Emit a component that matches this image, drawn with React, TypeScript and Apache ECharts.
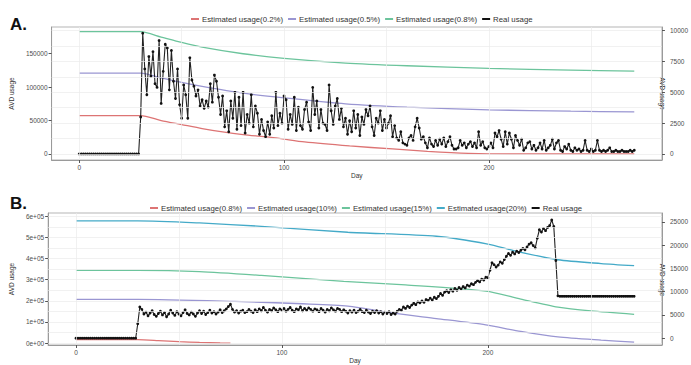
import React, { useEffect, useRef } from 'react';
import * as echarts from 'echarts';

const FONT = '"Liberation Sans", Arial, sans-serif';

// ---------- Panel A ----------
const legendA = ['Estimated usage(0.2%)', 'Estimated usage(0.5%)', 'Estimated usage(0.8%)', 'Real usage'];

const estA02Days = [0, 30, 40, 50, 60, 70, 80, 96, 110, 132, 153, 170, 190, 210, 271];
const estA02 = [57500, 57500, 50000, 44000, 38000, 33000, 29000, 24000, 18000, 12000, 7500, 4000, 1000, 0, 0];

const estA05Days = [0, 30, 40, 50, 60, 80, 100, 130, 160, 200, 240, 271];
const estA05 = [121000, 121000, 114000, 107000, 101000, 91000, 84000, 75000, 70000, 66000, 64000, 63000];

const estA08Days = [0, 30, 40, 50, 60, 80, 100, 130, 160, 200, 240, 271];
const estA08 = [183000, 183000, 175000, 167000, 160000, 150000, 143000, 136000, 132000, 128000, 125500, 124000];

// Real usage, one value per day starting at day 0
const realA = [
  0, 0, 0, 0, 0, 0, 0, 0, 0, 0,
  0, 0, 0, 0, 0, 0, 0, 0, 0, 0,
  0, 0, 0, 0, 0, 0, 0, 0, 0, 0,
  3000,
  9800, 6900, 4800, 7900, 6300, 8300, 5700, 5400, 9200, 4100,
  6700, 8900, 8600, 5200, 8400, 5900, 4500, 6900, 4000, 2900,
  5600, 4800, 2900, 7800, 6000, 5500, 4700, 5200, 3900, 4400,
  3700, 4300, 3800, 5700, 4200, 6400, 5900, 4600, 3200, 4700,
  2200, 3500, 1800, 4300, 2900, 5000, 2000, 4600, 2300, 5000,
  1700, 3200, 2500, 4800, 2200, 3900, 3300, 1600, 2800, 1900,
  1400, 2600, 1600, 3100, 2100, 5000, 2300, 3300, 2500, 4700,
  4400, 2000, 3200, 2400, 4600, 1900, 3800, 2300, 2000, 3600,
  4200, 2600, 1900, 5400, 3200, 4300, 2100, 3600, 2500, 2400,
  1900, 5600, 3500, 2400, 3900, 4500, 2800, 3700, 2200, 2900,
  1600, 2700, 1800, 3500, 2100, 3200, 1500, 3000, 2400, 3600,
  3100, 3900, 2200, 1500, 2900, 2500, 3500, 1900, 2800, 2100,
  2500, 3100, 1400, 2300, 1300, 1100, 1800, 900, 800, 700,
  1300, 1500, 1100, 2200, 2900, 2100, 1200, 1400, 900, 500,
  1300, 800, 600, 1100, 700, 1200, 800, 1300, 600, 1000,
  1400, 700, 400, 400, 500, 1100, 700, 900, 500, 800,
  1000, 600, 900, 500, 1800, 700, 1000, 500, 400, 600,
  900, 500, 1700, 1400, 1900, 1200, 600, 1800, 800, 1700,
  1200, 500, 1500, 1100, 700, 1200, 300, 500, 900, 1000,
  400, 700, 300, 500, 900, 400, 1100, 300, 500, 700,
  1200, 400, 900, 1100, 300, 200, 600, 400, 800, 300,
  200, 500, 300, 400, 200, 300, 1100, 300, 200, 400,
  200, 300, 1100, 300, 200, 300, 200, 300, 500, 200,
  200, 300, 200, 200, 300, 200, 200, 200, 300, 200, 300,
];

// ---------- Panel B ----------
const legendB = ['Estimated usage(0.8%)', 'Estimated usage(10%)', 'Estimated usage(15%)', 'Estimated usage(20%)', 'Real usage'];

const estB08Days = [0, 30, 40, 50, 60, 70, 75];
const estB08 = [16000, 16000, 12000, 7000, 3000, 500, 0];

const estB10Days = [0, 30, 77, 110, 132, 155, 175, 199, 216, 234, 255, 271];
const estB10 = [207000, 207000, 197000, 186000, 175000, 140000, 116000, 86000, 55000, 29000, 14000, 5000];

const estB15Days = [0, 30, 60, 90, 130, 160, 199, 216, 234, 250, 271];
const estB15 = [344000, 344000, 338000, 320000, 292000, 275000, 246000, 208000, 170000, 152000, 136000];

const estB20Days = [0, 30, 60, 90, 132, 175, 200, 213, 234, 255, 271];
const estB20 = [578000, 578000, 568000, 552000, 524000, 505000, 468000, 436000, 394000, 376000, 366000];

const realB = [
  0, 0, 0, 0, 0, 0, 0, 0, 0, 0,
  0, 0, 0, 0, 0, 0, 0, 0, 0, 0,
  0, 0, 0, 0, 0, 0, 0, 0, 0, 0,
  3100,
  6700, 6200, 5200, 5600, 4800, 5400, 5900, 5100, 4700, 5300,
  5800, 5000, 5500, 4600, 5200, 6000, 5400, 4900, 5700, 5200,
  4800, 5500, 6100, 5300, 5000, 5600, 5200, 4700, 5400, 5900,
  5300, 5800, 5100, 5500, 6000, 5400, 5700, 5200, 5600, 6100,
  5500, 5900, 6300, 6800, 7300, 6200, 5600, 5900, 5400, 5800,
  6000, 5500, 5700, 6200, 5800, 5500, 6100, 5700, 6300, 5900,
  6600, 6000, 5600, 6200, 5900, 6500, 6100, 5700, 6300, 6000,
  6400, 5800, 6200, 6600, 6000, 5700, 6300, 6100, 6700, 5900,
  6400, 6000, 6500, 6200, 5800, 6300, 6100, 5700, 6400, 6000,
  5600, 6200, 5900, 6500, 6100, 5800, 6400, 6200, 5700, 6100,
  5800, 5400, 5900, 5600, 6000, 5500, 5800, 6200, 5700, 5500,
  6000, 5600, 5300, 5800, 5500, 5900, 5400, 5700, 5200, 5600,
  5300, 5700, 5100, 5400, 5200, 5800, 6200, 6000, 6700, 6400,
  6900, 6600, 7100, 7500, 7200, 7800, 7600, 8000, 7700, 8300,
  8100, 8600, 8200, 8800, 8500, 9000, 9600, 9200, 9900, 10200,
  9800, 10400, 10100, 10700, 10300, 10900, 10600, 11100, 10800, 11400,
  11200, 11700, 11500, 12000, 12400, 12100, 12700, 12500, 13100, 13000,
  14600, 16200, 15800, 15300, 15700, 16400, 16100, 16900, 17600, 18200,
  17800, 18500, 18100, 18700, 18400, 18900, 19300, 19000, 19600, 20200,
  20500, 19900, 19400, 21500, 23300, 22800, 23600, 23100, 23800, 24200,
  25400, 24000, 16700, 9100,
  9000, 9000, 9000, 9000, 9000, 9000, 9000, 9000, 9000, 9000,
  9000, 9000, 9000, 9000, 9000, 9000, 9000, 9000, 9000, 9000,
  9000, 9000, 9000, 9000, 9000, 9000, 9000, 9000, 9000, 9000,
  9000, 9000, 9000, 9000, 9000, 9000, 9000,
];

// axis ticks
const dayTicks = [0, 100, 200];
const dayGrid = [0, 50, 100, 150, 200, 250];
const leftTicksA = [0, 50000, 100000, 150000];
const rightTicksA = [0, 2500, 5000, 7500, 10000];
const gridYA = [0, 1250, 2500, 3750, 5000, 6250, 7500, 8750, 10000];
const leftTicksB = [0, 100000, 200000, 300000, 400000, 500000, 600000];
const rightTicksB = [0, 5000, 10000, 15000, 20000, 25000];
const gridYB = [0, 50000, 100000, 150000, 200000, 250000, 300000, 350000, 400000, 450000, 500000, 550000, 600000];

const COLORS = {
  red: '#dd7474',
  purple: '#9a96d2',
  green: '#6cc49c',
  cyan: '#44aac8',
  black: '#111111',
};

const pairs = (xs: number[], ys: number[]) => xs.map((x, i) => [x, ys[i]]);
const daily = (ys: number[]) => ys.map((y, i) => [i, y]);
const plain = (v: number) => String(Math.round(v));

const labelStyle = { fontSize: 6.5, color: '#4d4d4d', fontFamily: FONT };

function xAxisCfg(gridIndex: number) {
  return {
    type: 'value',
    gridIndex,
    min: -13.5,
    max: 284.5,
    axisLine: { show: true, onZero: false, lineStyle: { color: '#9a9a9a', width: 1 } },
    axisTick: { show: true, length: 3, customValues: dayTicks, lineStyle: { color: '#555' } },
    axisLabel: { ...labelStyle, margin: 4, customValues: dayTicks, formatter: plain },
    splitLine: { show: false },
    name: 'Day',
    nameLocation: 'middle',
    nameGap: 12,
    nameTextStyle: { fontSize: 6.5, color: '#333', fontFamily: FONT },
  };
}

function yAxisCfg(gridIndex: number, position: string, min: number, max: number, ticks: number[], extra: any = {}) {
  return {
    type: 'value',
    gridIndex,
    position,
    min,
    max,
    axisLine: { show: true, onZero: false, lineStyle: { color: '#9a9a9a', width: 1 } },
    axisTick: { show: true, length: 3, customValues: ticks, lineStyle: { color: '#555' } },
    axisLabel: { ...labelStyle, margin: 4, customValues: ticks, formatter: plain, ...(extra.axisLabel || {}) },
    splitLine: { show: false },
    ...(extra.rest || {}),
  };
}

function gridLines(xIdx: number, yIdx: number, ys: number[]) {
  return {
    type: 'line',
    name: 'grid' + xIdx,
    xAxisIndex: xIdx,
    yAxisIndex: yIdx,
    data: [],
    silent: true,
    z: 0,
    markLine: {
      silent: true,
      symbol: ['none', 'none'],
      label: { show: false },
      lineStyle: { color: '#ebebeb', width: 0.7, type: 'solid' },
      emphasis: { disabled: true },
      data: [...dayGrid.map((v) => ({ xAxis: v })), ...ys.map((v) => ({ yAxis: v }))],
    },
  };
}

function estSeries(name: string, xIdx: number, yIdx: number, days: number[], vals: number[], color: string) {
  return {
    type: 'line',
    name,
    xAxisIndex: xIdx,
    yAxisIndex: yIdx,
    data: pairs(days, vals),
    showSymbol: false,
    symbol: 'none',
    smooth: 0.25,
    lineStyle: { color, width: 1.3 },
    itemStyle: { color },
    z: 2,
  };
}

function realSeries(name: string, xIdx: number, yIdx: number, vals: number[]) {
  return {
    type: 'line',
    name,
    xAxisIndex: xIdx,
    yAxisIndex: yIdx,
    data: daily(vals),
    symbol: 'circle',
    symbolSize: 2.8,
    showSymbol: true,
    lineStyle: { color: '#222', width: 1.1 },
    itemStyle: { color: COLORS.black },
    z: 3,
  };
}

const stripPrefix = (n: string) => n.replace(/^[AB]\|/, '');

function buildOption() {
  return {
    animation: false,
    backgroundColor: '#ffffff',
    textStyle: { fontFamily: FONT },
    title: [
      { text: 'A.', left: 5, top: 11, textStyle: { fontSize: 17, fontWeight: 'bold', color: '#111', fontFamily: FONT } },
      { text: 'B.', left: 5, top: 190, textStyle: { fontSize: 17, fontWeight: 'bold', color: '#111', fontFamily: FONT } },
    ],
    legend: [
      {
        left: 186,
        top: 10,
        icon: 'rect',
        itemWidth: 8,
        itemHeight: 2,
        itemGap: 5,
        formatter: stripPrefix,
        textStyle: { fontSize: 7.8, color: '#333', fontFamily: FONT, padding: [0, 0, 0, -2] },
        data: [
          { name: 'A|' + legendA[0], itemStyle: { color: COLORS.red } },
          { name: 'A|' + legendA[1], itemStyle: { color: COLORS.purple } },
          { name: 'A|' + legendA[2], itemStyle: { color: COLORS.green } },
          { name: 'A|' + legendA[3], itemStyle: { color: COLORS.black } },
        ],
      },
      {
        left: 145,
        top: 199,
        icon: 'rect',
        itemWidth: 8,
        itemHeight: 2,
        itemGap: 5,
        formatter: stripPrefix,
        textStyle: { fontSize: 7.8, color: '#333', fontFamily: FONT, padding: [0, 0, 0, -2] },
        data: [
          { name: 'B|' + legendB[0], itemStyle: { color: COLORS.red } },
          { name: 'B|' + legendB[1], itemStyle: { color: COLORS.purple } },
          { name: 'B|' + legendB[2], itemStyle: { color: COLORS.green } },
          { name: 'B|' + legendB[3], itemStyle: { color: COLORS.cyan } },
          { name: 'B|' + legendB[4], itemStyle: { color: COLORS.black } },
        ],
      },
    ],
    grid: [
      { left: 45, top: 27, width: 626, height: 133, show: true, borderColor: '#b5b5b5', borderWidth: 1, backgroundColor: 'transparent' },
      { left: 45, top: 213, width: 626, height: 136, show: true, borderColor: '#b5b5b5', borderWidth: 1, backgroundColor: 'transparent' },
    ],
    xAxis: [xAxisCfg(0), xAxisCfg(1)],
    yAxis: [
      yAxisCfg(0, 'left', -9000, 190000, leftTicksA, {
        rest: {
          name: 'AVD usage',
          nameLocation: 'middle',
          nameGap: 28,
          nameRotate: 90,
          nameTextStyle: { fontSize: 6.5, color: '#333', fontFamily: FONT },
        },
      }),
      yAxisCfg(0, 'right', -490, 10300, rightTicksA, { axisLabel: { margin: 8 } }),
      yAxisCfg(1, 'left', -9000, 615000, leftTicksB, {
        axisLabel: {
          formatter: (v: number) => (v === 0 ? '0e+00' : `${Math.round(v / 100000)}e+05`),
        },
        rest: {
          name: 'AVD usage',
          nameLocation: 'middle',
          nameGap: 28,
          nameRotate: 90,
          nameTextStyle: { fontSize: 6.5, color: '#333', fontFamily: FONT },
        },
      }),
      yAxisCfg(1, 'right', -1460, 26900, rightTicksB, { axisLabel: { margin: 8 } }),
    ],
    graphic: [
      {
        type: 'text',
        x: 662,
        y: 93.5,
        rotation: -Math.PI / 2,
        silent: true,
        style: { text: 'AVD usage', fontSize: 6.5, fill: '#333', align: 'center', verticalAlign: 'middle', fontFamily: FONT },
      },
      {
        type: 'text',
        x: 662,
        y: 280,
        rotation: -Math.PI / 2,
        silent: true,
        style: { text: 'AVD usage', fontSize: 6.5, fill: '#333', align: 'center', verticalAlign: 'middle', fontFamily: FONT },
      },
    ],
    series: [
      gridLines(0, 1, gridYA),
      gridLines(1, 2, gridYB),
      estSeries('A|' + legendA[0], 0, 0, estA02Days, estA02, COLORS.red),
      estSeries('A|' + legendA[1], 0, 0, estA05Days, estA05, COLORS.purple),
      estSeries('A|' + legendA[2], 0, 0, estA08Days, estA08, COLORS.green),
      realSeries('A|' + legendA[3], 0, 1, realA),
      estSeries('B|' + legendB[0], 1, 2, estB08Days, estB08, COLORS.red),
      estSeries('B|' + legendB[1], 1, 2, estB10Days, estB10, COLORS.purple),
      estSeries('B|' + legendB[2], 1, 2, estB15Days, estB15, COLORS.green),
      estSeries('B|' + legendB[3], 1, 2, estB20Days, estB20, COLORS.cyan),
      realSeries('B|' + legendB[4], 1, 3, realB),
    ],
  };
}

export default function App() {
  const ref = useRef<HTMLDivElement>(null);
  useEffect(() => {
    if (!ref.current) return;
    const chart = echarts.init(ref.current, null, { renderer: 'svg' });
    chart.setOption(buildOption() as any);
    return () => chart.dispose();
  }, []);
  return (
    <div
      ref={ref}
      style={{ position: 'absolute', left: 0, top: 0, width: 691, height: 365, background: '#fff' }}
    />
  );
}
